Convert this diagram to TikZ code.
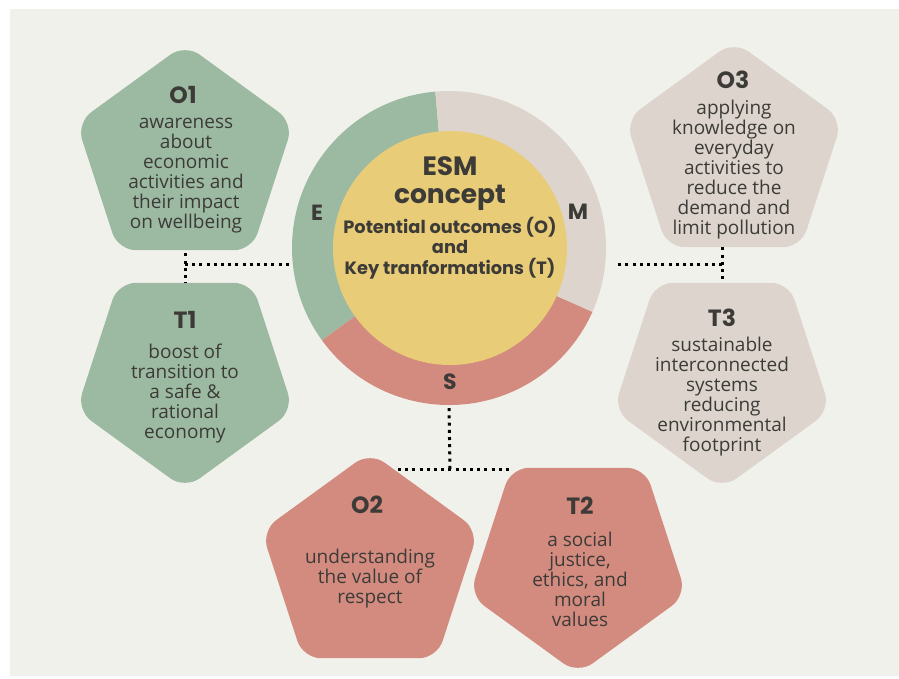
\documentclass[tikz,border=0pt]{standalone}
\usepackage{fontspec}
\usetikzlibrary{shapes.geometric}
\newfontfamily\headfont{Poppins}
\newfontfamily\bodyfont{Open Sans}
\definecolor{panel}{HTML}{F1F1EC}
\definecolor{sage}{HTML}{9CBAA2}
\definecolor{sand}{HTML}{DCD4CD}
\definecolor{clay}{HTML}{D38B7F}
\definecolor{mustard}{HTML}{E9CC77}
\definecolor{ink}{HTML}{3D3B38}
\begin{document}
\begin{tikzpicture}[x=1pt,y=-1pt,
  pent/.style={regular polygon, regular polygon sides=5, minimum size=228pt,
    inner sep=0pt, rounded corners=18pt},
  pentdown/.style={pent, shape border rotate=180},
  head/.style={font=\headfont\bfseries\fontsize{23.5}{26}\selectfont, text=ink, inner sep=0pt},
  body/.style={font=\bodyfont\fontsize{19}{20}\selectfont, text=ink, align=center, inner sep=0pt},
  ringlabel/.style={font=\headfont\bfseries\fontsize{22}{24}\selectfont, text=ink, inner sep=0pt},
  dots/.style={draw=black, line width=3pt, dash pattern=on 3pt off 4.2pt}]
\useasboundingbox (0,0) rectangle (899,678);
\fill[white] (0,0) rectangle (899,678);
\fill[panel] (10,9) rectangle (899,676);

% ring of the three dimensions
\begin{scope}[shift={(449,248)}, y=1pt]
  \fill[sage] (0,0) -- (95:157) arc[start angle=95, end angle=216, radius=157] -- cycle;
  \fill[clay] (0,0) -- (216:157) arc[start angle=216, end angle=336, radius=157] -- cycle;
  \fill[sand] (0,0) -- (336:157) arc[start angle=336, end angle=455, radius=157] -- cycle;
\end{scope}
\node[circle, minimum size=314pt, inner sep=0pt] (ring) at (449,248) {};
\node[circle, fill=mustard, minimum size=234pt, inner sep=0pt] (core) at (450,248) {};

\node[ringlabel] (labE) at (317,213) {E};
\node[ringlabel] (labM) at (578,212) {M};
\node[ringlabel] (labS) at (450,382) {S};

\node[font=\headfont\bfseries\fontsize{26.5}{28}\selectfont, text=ink, align=center, inner sep=0pt]
  (title) at (450,184) {ESM\\concept};
\node[font=\headfont\bfseries\fontsize{17.8}{20.5}\selectfont, text=ink, align=center, inner sep=0pt]
  (subtitle) at (450,248) {Potential outcomes (O)\\and\\Key tranformations (T)};

% pentagons
\node[pent, fill=sage] (O1) at (185,158) {};
\node[pentdown, fill=sage] (T1) at (185,375) {};
\node[pent, fill=sand] (O3) at (734,155) {};
\node[pentdown, fill=sand] (T3) at (722,375) {};
\node[pent, fill=clay] (O2) at (370,566) {};
\node[pentdown, fill=clay] (T2) at (578,560) {};

\node[head] (hO1) at (183,95) {O1};
\node[body] (bO1) at (186,176) {awareness\\about\\economic\\activities and\\their impact\\on wellbeing};
\node[head] (hT1) at (185,320) {T1};
\node[body] (bT1) at (185,394) {boost of\\transition to\\a safe \&\\rational\\economy};
\node[head] (hO3) at (733,80) {O3};
\node[body] (bO3) at (734,170) {applying\\knowledge on\\everyday\\activities to\\reduce the\\demand and\\limit pollution};
\node[head] (hT3) at (722,318) {T3};
\node[body] (bT3) at (722,397) {sustainable\\interconnected\\systems\\reducing\\environmental\\footprint};
\node[head] (hO2) at (367,505) {O2};
\node[body] (bO2) at (370,579) {understanding\\the value of\\respect};
\node[head] (hT2) at (580,506) {T2};
\node[body] (bT2) at (580,579) {a social\\justice,\\ethics, and\\moral\\values};

% dotted connectors
\coordinate (jl) at (185,264);
\coordinate (jr) at (722,264);
\coordinate (jb) at (450,469);
\coordinate (bl) at (398,469);
\coordinate (br) at (510,469);
\draw[dots] ([yshift=-3pt]O1.south) -- (T1.north);
\draw[dots] (jl) -- (jl -| ring.west);
\draw[dots] (O3.south -| T3.north) -- (T3.north);
\draw[dots] (jr) -- ([xshift=9pt]jr -| ring.east);
\draw[dots] ([yshift=-3pt]ring.south) -- (jb);
\draw[dots] (bl) -- (br);
\end{tikzpicture}
\end{document}
